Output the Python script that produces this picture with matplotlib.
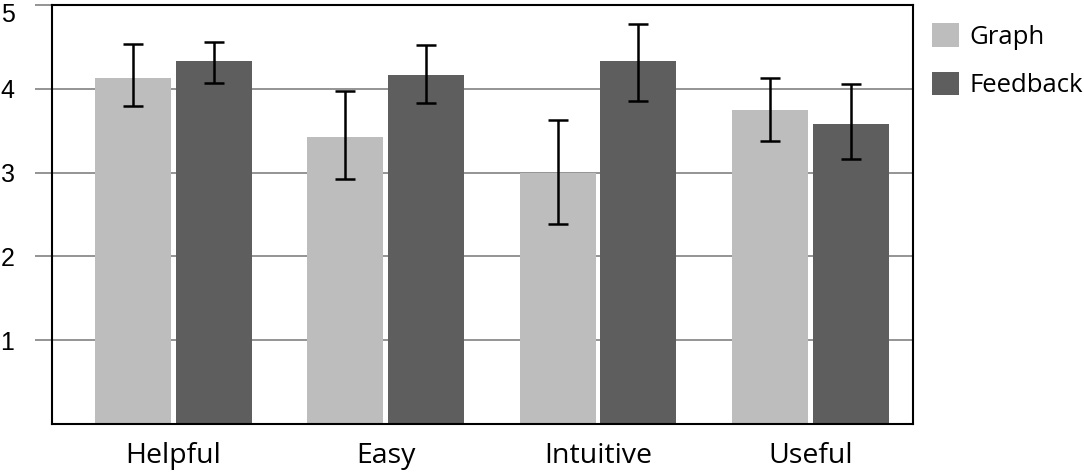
import matplotlib
matplotlib.use("Agg")
import matplotlib.pyplot as plt
from matplotlib.transforms import offset_copy
import numpy as np

categories = ["Helpful", "Easy", "Intuitive", "Useful"]
series_names = ["Graph", "Feedback"]
graph_vals = [4.13, 3.42, 3.00, 3.75]
graph_err_low = [3.79, 2.92, 2.39, 3.38]
graph_err_high = [4.53, 3.97, 3.63, 4.13]
feedback_vals = [4.33, 4.16, 4.33, 3.58]
feedback_err_low = [4.07, 3.83, 3.86, 3.16]
feedback_err_high = [4.56, 4.52, 4.77, 4.06]
yticks = [1, 2, 3, 4, 5]

colors = ["#bdbdbd", "#5e5e5e"]
grid_color = "#828282"

fig = plt.figure(figsize=(10.84, 4.73), dpi=100)
ax = fig.add_axes([52/1084, 1-424/473, (913-52)/1084, (424-5)/473])

x = np.arange(len(categories))
w = 0.358
off = 0.19

handles = []
for i, (vals, lo, hi) in enumerate([
        (graph_vals, graph_err_low, graph_err_high),
        (feedback_vals, feedback_err_low, feedback_err_high)]):
    vals = np.array(vals)
    yerr = np.vstack([vals - np.array(lo), np.array(hi) - vals])
    pos = x + (-off if i == 0 else off)
    b = ax.bar(pos, vals, width=w, color=colors[i], zorder=2, label=series_names[i])
    ax.errorbar(pos, vals, yerr=yerr, fmt="none", ecolor="black",
                elinewidth=1.8, capsize=7.5, capthick=1.8, zorder=3)
    handles.append(b)

ax.set_xlim(-0.572, 3.483)
ax.set_ylim(0, 5)
ax.set_yticks(yticks)
ylabels = [str(t) for t in yticks]
ax.set_yticklabels(ylabels[:-1] + [""], fontfamily="Liberation Sans", fontsize=18)
ax.yaxis.grid(True, color=grid_color, linewidth=1.2, zorder=0)
ax.set_axisbelow(True)
ax.tick_params(axis="y", length=12, width=1.2, color=grid_color, pad=15)
# top label is nudged down so it stays inside the picture, as in the reference
top_tr = offset_copy(ax.get_yaxis_transform(), fig=fig, x=-(12 + 15), y=-5.5, units="points")
ax.text(0, yticks[-1], ylabels[-1], transform=top_tr, ha="right", va="center_baseline",
        fontfamily="Liberation Sans", fontsize=18)

ax.set_xticks(x)
ax.set_xticklabels(categories, fontfamily="Open Sans", fontsize=20.5)
ax.tick_params(axis="x", length=0, pad=13)
for s in ax.spines.values():
    s.set_linewidth(1.5)
    s.set_color("black")
    s.set_zorder(4)

leg = ax.legend(handles=handles, labels=series_names, loc="upper left",
                bbox_to_anchor=(932/1084, 1-23/473), bbox_transform=fig.transFigure,
                frameon=False, prop={"family": "Open Sans", "size": 18.5},
                handlelength=1.05, handleheight=1.05, handletextpad=0.4,
                labelspacing=0.85, borderpad=0, borderaxespad=0)

fig.savefig("out.png", dpi=100)
